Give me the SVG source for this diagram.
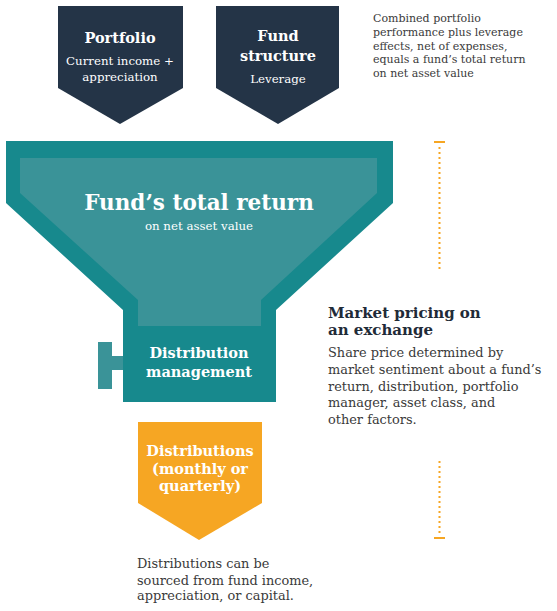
<svg xmlns="http://www.w3.org/2000/svg" width="557" height="611" viewBox="0 0 557 611">
<style>
text{font-family:"DejaVu Serif","Liberation Serif",serif}
.nb{fill:#fff;font-weight:bold;font-size:14.5px;text-anchor:middle}
.nr{fill:#fff;font-size:11.8px;text-anchor:middle}
.body{fill:#3a3a3a;font-size:12.9px}
.small{fill:#3a3a3a;font-size:11px}
.head{fill:#1f2b38;font-weight:bold;font-size:15px}
.navy{fill:#243447}
.teal{fill:#17898d}
.teal2{fill:#3a9398}
.dot{stroke:#f6a623;stroke-width:2;stroke-dasharray:2 3;fill:none}
.cap{stroke:#f6a623;stroke-width:2;fill:none}
</style>
<g id="portfolio">
<polygon class="navy" points="58,6 183,6 183,88 120,124 58,88"/>
<text class="nb" x="120" y="43">Portfolio</text>
<text class="nr" x="120" y="65">Current income +</text>
<text class="nr" x="120" y="81">appreciation</text>
</g>
<g id="fund-structure">
<polygon class="navy" points="216,6 339,6 339,88 278,124 216,88"/>
<text class="nb" x="278" y="41">Fund</text>
<text class="nb" x="278" y="61">structure</text>
<text class="nr" x="278" y="83">Leverage</text>
</g>
<g id="combined-note">
<text class="small" x="373" y="22">Combined portfolio</text>
<text class="small" x="373" y="36">performance plus leverage</text>
<text class="small" x="373" y="50">effects, net of expenses,</text>
<text class="small" x="373" y="63">equals a fund’s total return</text>
<text class="small" x="373" y="77">on net asset value</text>
</g>
<g id="funnel">
<polygon class="teal" points="6,141 393,141 393,203 276,310 276,402 123,402 123,310 6,203"/>
<polygon class="teal2" points="20,158 377,158 377,193 261,300 261,326 138,326 138,300 20,193"/>
<rect class="teal2" x="98" y="342" width="14" height="47"/>
<rect class="teal2" x="112" y="356" width="11" height="14"/>
<text fill="#fff" font-weight="bold" font-size="21.5" text-anchor="middle" x="199" y="210">Fund’s total return</text>
<text class="nr" x="199" y="230">on net asset value</text>
<text class="nb" x="199" y="358">Distribution</text>
<text class="nb" x="199" y="377">management</text>
</g>
<g id="market-pricing">
<text class="head" x="328" y="318">Market pricing on</text>
<text class="head" x="328" y="335">an exchange</text>
<text class="body" x="328" y="357">Share price determined by</text>
<text class="body" x="328" y="374">market sentiment about a fund’s</text>
<text class="body" x="328" y="391">return, distribution, portfolio</text>
<text class="body" x="328" y="407">manager, asset class, and</text>
<text class="body" x="328" y="424">other factors.</text>
</g>
<g id="distributions">
<polygon fill="#f6a623" points="138,422 262,422 262,503 199,540 138,503"/>
<text class="nb" x="200" y="456">Distributions</text>
<text class="nb" x="200" y="474">(monthly or</text>
<text class="nb" x="200" y="491">quarterly)</text>
</g>
<g id="distributions-note">
<text class="body" x="137" y="568">Distributions can be</text>
<text class="body" x="137" y="585">sourced from fund income,</text>
<text class="body" x="137" y="600">appreciation, or capital.</text>
</g>
<g id="connectors">
<line class="cap" x1="434" y1="142" x2="445" y2="142"/>
<line class="dot" x1="439.5" y1="147" x2="439.5" y2="271"/>
<line class="dot" x1="439.5" y1="461" x2="439.5" y2="535"/>
<line class="cap" x1="434" y1="538" x2="445" y2="538"/>
</g>
</svg>
